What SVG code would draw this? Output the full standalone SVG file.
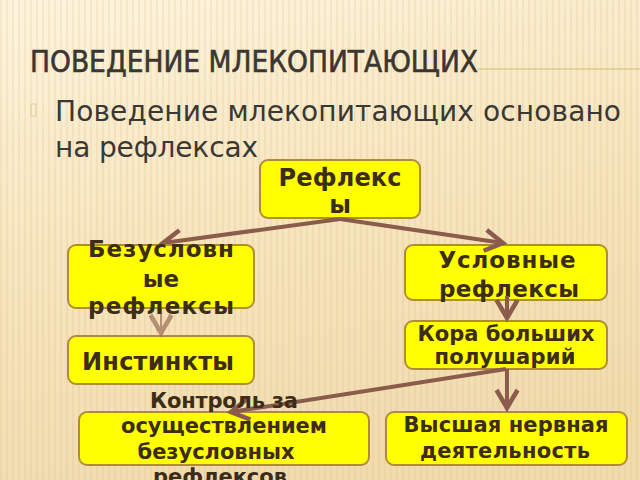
<svg xmlns="http://www.w3.org/2000/svg" width="640" height="480" viewBox="0 0 640 480">
<defs>
<linearGradient id="bg" x1="0" y1="0" x2="0.3" y2="1">
<stop offset="0" stop-color="#fdf4de"/>
<stop offset="0.5" stop-color="#f7e6c0"/>
<stop offset="1" stop-color="#f1dcb0"/>
</linearGradient>
<pattern id="stripes" width="6" height="480" patternUnits="userSpaceOnUse">
<rect x="0" y="0" width="2" height="480" fill="#d9b77a" opacity="0.18"/>
</pattern>
<marker id="arr" markerWidth="30" markerHeight="30" refX="0" refY="0" viewBox="-16 -10 20 20" markerUnits="userSpaceOnUse" orient="auto">
<path d="M-12,-7 L0,0 L-12,7" fill="none" stroke="#8b5b4b" stroke-width="3"/>
</marker>
<style>
.box{fill:#ffff00;stroke:#b08c3a;stroke-width:2}
.t{font-family:"DejaVu Sans","Liberation Sans",sans-serif;font-weight:bold;fill:#3d2c16;text-anchor:middle}
.c{stroke:#8b5b4b;stroke-width:4;fill:none;marker-end:url(#arr)}
</style>
</defs>
<rect width="640" height="480" fill="url(#bg)"/>
<rect width="640" height="480" fill="url(#stripes)"/>
<text x="30" y="72" font-family="DejaVu Sans Condensed,DejaVu Sans,sans-serif" font-size="31" fill="#3a3631" stroke="#3a3631" stroke-width="0.6" textLength="448" lengthAdjust="spacingAndGlyphs">ПОВЕДЕНИЕ МЛЕКОПИТАЮЩИХ</text>
<line x1="478" y1="69" x2="640" y2="69" stroke="#d8b87a" stroke-width="1"/>
<rect x="31" y="104" width="5" height="12" fill="none" stroke="#e4c98e" stroke-width="1"/>
<text x="55" y="121" font-family="DejaVu Sans,sans-serif" font-size="28" fill="#3a3835" textLength="566" lengthAdjust="spacing">Поведение млекопитающих основано</text>
<text x="55" y="157" font-family="DejaVu Sans,sans-serif" font-size="28" fill="#3a3835" textLength="203" lengthAdjust="spacing">на рефлексах</text>
<g id="n1">
<rect class="box" x="260" y="160" width="160" height="58" rx="8"/>
<text class="t" x="340" y="186" font-size="24" textLength="123" lengthAdjust="spacing">Рефлекс</text>
<text class="t" x="340" y="213" font-size="24">ы</text>
</g>
<g id="n3">
<rect class="box" x="405" y="245" width="202" height="55" rx="8"/>
<text class="t" x="507" y="268" font-size="23" textLength="137" lengthAdjust="spacing">Условные</text>
<text class="t" x="509" y="297" font-size="23" textLength="140" lengthAdjust="spacing">рефлексы</text>
</g>
<g id="n4">
<rect class="box" x="68" y="336" width="186" height="48" rx="8"/>
<text class="t" x="158" y="370" font-size="24" textLength="152" lengthAdjust="spacing">Инстинкты</text>
</g>
<g id="n5">
<rect class="box" x="405" y="321" width="202" height="48" rx="8"/>
<text class="t" x="506" y="341" font-size="21" textLength="177" lengthAdjust="spacing">Кора больших</text>
<text class="t" x="505" y="364" font-size="21" textLength="141" lengthAdjust="spacing">полушарий</text>
</g>
<g id="n6">
<rect class="box" x="79" y="412" width="290" height="53" rx="8"/>
</g>
<g id="n7">
<rect class="box" x="386" y="412" width="241" height="53" rx="8"/>
<text class="t" x="506" y="432" font-size="21" textLength="205" lengthAdjust="spacing">Высшая нервная</text>
<text class="t" x="505" y="458" font-size="21" textLength="170" lengthAdjust="spacing">деятельность</text>
</g>
<g id="connectors">
<line class="c" x1="340" y1="219" x2="163" y2="243"/>
<line class="c" x1="340" y1="219" x2="503" y2="243"/>
<line class="c" x1="161" y1="300" x2="161" y2="333" style="stroke-width:2;opacity:0.6"/>
<line class="c" x1="507" y1="296" x2="507" y2="318"/>
<line class="c" x1="507" y1="369" x2="507" y2="408"/>
<line class="c" x1="506" y1="369" x2="231" y2="412"/>
</g>
<g id="n2">
<rect class="box" x="68" y="245" width="186" height="63" rx="8"/>
<text class="t" x="161" y="257" font-size="23" textLength="146" lengthAdjust="spacing">Безусловн</text>
<text class="t" x="161" y="287" font-size="23">ые</text>
<text class="t" x="161" y="314" font-size="23" textLength="146" lengthAdjust="spacing">рефлексы</text>
</g>
<g id="n6t">
<text class="t" x="224" y="408" font-size="21" textLength="148" lengthAdjust="spacing">Контроль за</text>
<text class="t" x="224" y="433" font-size="21" textLength="206" lengthAdjust="spacing">осуществлением</text>
<text class="t" x="216" y="459" font-size="21" textLength="157" lengthAdjust="spacing">безусловных</text>
<text class="t" x="220" y="484" font-size="21" textLength="134" lengthAdjust="spacing">рефлексов</text>
</g>
</svg>
